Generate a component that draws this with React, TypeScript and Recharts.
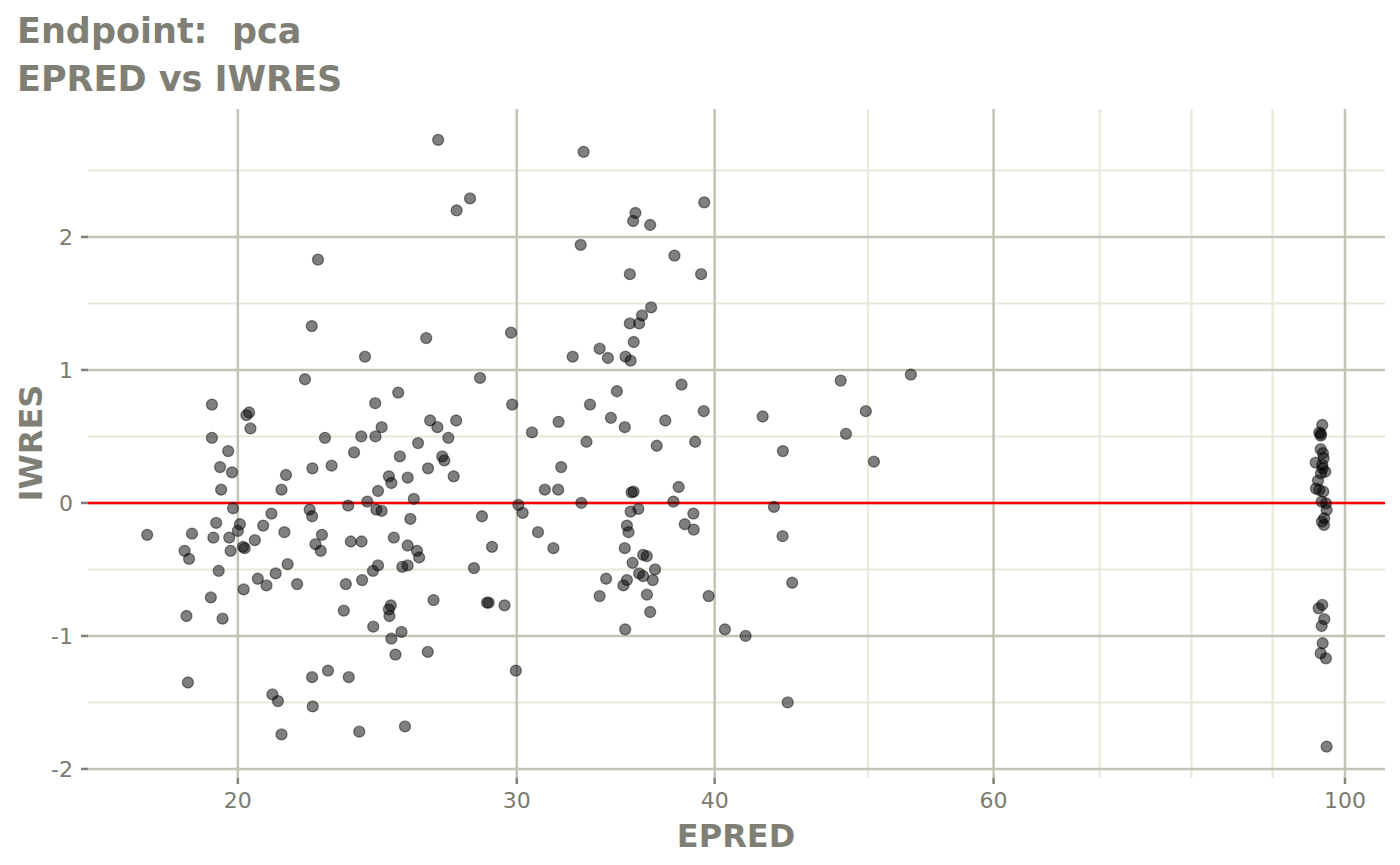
import React from "react";
import {
  ScatterChart,
  Scatter,
  XAxis,
  YAxis,
  CartesianGrid,
  ReferenceLine,
} from "recharts";

// EPRED (x, log scale) and IWRES (y)
const epred = [
  22.47, 22.27, 24.06, 22.05, 19.26, 20.33, 20.25, 20.37, 25.25, 24.42,
  24.65, 24.43, 23.93, 22.7, 19.26, 19.72, 19.49, 19.83, 19.52, 21.45,
  21.31, 22.29, 22.92, 23.68, 25.31, 24.91, 25.0, 25.6, 24.52, 24.14,
  19.86, 21.0, 22.2, 22.28, 23.48, 24.46, 24.65, 25.7, 17.53, 18.71,
  19.38, 20.06, 20.0, 19.3, 19.75, 18.51, 18.63, 19.79, 20.15, 20.2,
  20.5, 20.75, 21.4, 22.6, 22.39, 22.56, 23.57, 23.94, 25.09, 25.6,
  25.4, 25.6, 24.52, 24.34, 19.45, 21.5, 21.13, 20.59, 20.85, 20.17,
  21.8, 23.4, 23.96, 19.23, 18.56, 19.56, 23.33, 24.98, 24.91, 24.93,
  24.35, 25.37, 25.0, 25.15, 18.6, 22.28, 22.8, 23.5, 21.03, 21.2,
  22.3, 21.31, 23.86, 25.5,
  26.76, 33.06, 28.03, 27.49, 35.65, 35.53, 36.42, 39.4, 32.92, 37.73,
  35.36, 39.22, 36.47, 35.99, 35.36, 35.84, 29.75, 26.3, 35.56, 33.84,
  32.54, 34.25, 35.14, 35.4, 28.44, 38.12, 34.7, 29.8, 33.37, 39.37,
  26.45, 27.47, 26.73, 31.88, 34.4, 35.1, 37.23, 30.67, 27.16, 25.99,
  33.2, 36.77, 38.88, 26.92, 27.0, 26.37, 27.37, 32.0, 31.25, 31.86,
  35.45, 35.55, 37.96, 37.67, 25.83, 32.95,
  30.07, 30.26, 28.52, 30.94, 31.64, 28.94, 25.95, 26.03, 28.19, 26.58,
  28.8, 28.73, 29.47, 26.36, 29.96, 35.8, 35.4, 35.21, 35.29, 38.78,
  38.3, 38.8, 35.1, 36.05, 36.24, 35.5, 36.68, 35.84, 36.05, 36.56,
  35.21, 35.03, 34.16, 33.84, 36.25, 36.42, 39.65, 35.12,
  42.89, 48.04, 53.2, 49.83, 48.41, 44.17, 50.42, 43.6, 44.15, 44.77,
  40.6, 41.84, 44.48,
  96.75, 96.33, 96.57, 96.53, 96.53, 96.85, 96.95, 95.83, 96.75, 97.17,
  96.57, 96.15, 95.87, 96.33, 96.89, 96.67, 97.27, 97.37, 97.03, 96.99,
  96.75, 96.25, 97.03, 96.67, 96.81, 96.53, 97.27, 97.37, 96.8, 96.7,
];

const iwres = [
  1.83, 1.33, 1.1, 0.93, 0.74, 0.68, 0.66, 0.56, 0.83, 0.75,
  0.57, 0.5, 0.5, 0.49, 0.49, 0.39, 0.27, 0.23, 0.1, 0.21,
  0.1, 0.26, 0.28, 0.38, 0.35, 0.2, 0.15, 0.19, 0.09, 0.01,
  -0.04, -0.08, -0.05, -0.1, -0.02, -0.05, -0.06, -0.12, -0.24, -0.23,
  -0.15, -0.16, -0.21, -0.26, -0.26, -0.36, -0.42, -0.36, -0.33, -0.34,
  -0.28, -0.17, -0.22, -0.24, -0.31, -0.36, -0.29, -0.29, -0.26, -0.32,
  -0.48, -0.47, -0.47, -0.51, -0.51, -0.46, -0.53, -0.57, -0.62, -0.65,
  -0.61, -0.61, -0.58, -0.71, -0.85, -0.87, -0.81, -0.77, -0.8, -0.85,
  -0.93, -0.97, -1.02, -1.14, -1.35, -1.31, -1.26, -1.31, -1.44, -1.49,
  -1.53, -1.74, -1.72, -1.68,
  2.73, 2.64, 2.29, 2.2, 2.18, 2.12, 2.09, 2.26, 1.94, 1.86,
  1.72, 1.72, 1.47, 1.41, 1.35, 1.35, 1.28, 1.24, 1.21, 1.16,
  1.1, 1.09, 1.1, 1.07, 0.94, 0.89, 0.84, 0.74, 0.74, 0.69,
  0.62, 0.62, 0.57, 0.61, 0.64, 0.57, 0.62, 0.53, 0.49, 0.45,
  0.46, 0.43, 0.46, 0.35, 0.32, 0.26, 0.2, 0.27, 0.1, 0.1,
  0.08, 0.085, 0.12, 0.01, 0.03, 0.0,
  -0.015, -0.075, -0.1, -0.22, -0.34, -0.33, -0.36, -0.41, -0.49, -0.73,
  -0.75, -0.75, -0.77, -1.12, -1.26, -0.045, -0.065, -0.17, -0.22, -0.08,
  -0.16, -0.2, -0.34, -0.39, -0.4, -0.45, -0.5, -0.53, -0.55, -0.58,
  -0.58, -0.62, -0.57, -0.7, -0.69, -0.82, -0.7, -0.95,
  0.65, 0.92, 0.965, 0.69, 0.52, 0.39, 0.31, -0.03, -0.25, -0.6,
  -0.95, -1.0, -1.5,
  0.586, 0.529, 0.519, 0.506, 0.404, 0.374, 0.336, 0.303, 0.286, 0.235,
  0.223, 0.168, 0.108, 0.098, 0.085, 0.01, -0.003, -0.053, -0.115, -0.165,
  -0.767, -0.792, -0.874, -0.925, -1.055, -1.13, -1.168, -1.832, 0.26, -0.14,
];

const xTicks = [20, 30, 40, 60, 100];
const xMinor = [50, 70, 80, 90];
const yTicks = [-2, -1, 0, 1, 2];
const yMinor = [-1.5, -0.5, 0.5, 1.5, 2.5];

const points = epred.map((x, i) => ({ epred: x, iwres: iwres[i] }));

const MAJOR = "#c3c3b6";
const MINOR = "#e7e7da";
const TEXT = "#7a7a70";
const TITLE = "#7f7f76";
const FONT = "'DejaVu Sans', sans-serif";

// map values through the axis scale for grid lines
const mapScale = (axis: any, vals: number[]) => {
  const s = axis && axis.scale;
  if (!s) return [];
  const f = typeof s === "function" ? s : s.map ? (v: number) => s.map(v) : null;
  if (!f) return [];
  return vals.map((v) => f(v));
};

const Dot = (props: any) => {
  const { cx, cy } = props;
  if (cx == null || cy == null) return null;
  return (
    <circle
      cx={cx}
      cy={cy}
      r={5.5}
      fill="rgba(0,0,0,0.5)"
      stroke="rgba(0,0,0,0.45)"
      strokeWidth={1.3}
    />
  );
};

export default function App() {
  return (
    <div style={{ position: "absolute", left: 0, top: 0, width: 1400, height: 865, background: "#fff" }}>
      <ScatterChart
        width={1400}
        height={865}
        margin={{ top: 109, right: 15, bottom: 0, left: 0 }}
      >
        <CartesianGrid
          stroke={MINOR}
          strokeWidth={2}
          horizontalCoordinatesGenerator={({ yAxis }: any) => mapScale(yAxis, yMinor)}
          verticalCoordinatesGenerator={({ xAxis }: any) => mapScale(xAxis, xMinor)}
        />
        <CartesianGrid
          stroke={MAJOR}
          strokeWidth={2.5}
          horizontalCoordinatesGenerator={({ yAxis }: any) => mapScale(yAxis, yTicks)}
          verticalCoordinatesGenerator={({ xAxis }: any) => mapScale(xAxis, xTicks)}
        />
        <XAxis
          dataKey="epred"
          type="number"
          scale="log"
          domain={[16.085, 105.99]}
          allowDataOverflow
          ticks={xTicks}
          height={87}
          axisLine={false}
          tickSize={6}
          tickMargin={8}
          tickLine={{ stroke: "#808078", strokeWidth: 2.5 }}
          tick={{ fill: TEXT, fontSize: 22, fontFamily: FONT }}
        />
        <YAxis
          dataKey="iwres"
          type="number"
          domain={[-2.068, 2.962]}
          allowDataOverflow
          ticks={yTicks}
          width={88}
          axisLine={false}
          tickSize={7}
          tickMargin={8}
          tickLine={{ stroke: "#808078", strokeWidth: 2.5 }}
          tick={{ fill: TEXT, fontSize: 22, fontFamily: FONT }}
        />
        <Scatter data={points} shape={Dot} isAnimationActive={false} />
        <ReferenceLine y={0} stroke="#ff0000" strokeWidth={2.5} />
      </ScatterChart>
      <svg
        width={1400}
        height={865}
        style={{ position: "absolute", left: 0, top: 0, pointerEvents: "none" }}
      >
        <text x={17} y={43} fontSize={35} fontWeight="bold" fill={TITLE} fontFamily={FONT} style={{ whiteSpace: "pre" }}>
          Endpoint:  pca
        </text>
        <text x={17} y={91} fontSize={35} fontWeight="bold" fill={TITLE} fontFamily={FONT}>
          EPRED vs IWRES
        </text>
        <text x={736} y={847} fontSize={32} fontWeight="bold" fill={TITLE} fontFamily={FONT} textAnchor="middle">
          EPRED
        </text>
        <text
          x={42}
          y={443}
          fontSize={32}
          fontWeight="bold"
          fill={TITLE}
          fontFamily={FONT}
          textAnchor="middle"
          transform="rotate(-90 42 443)"
        >
          IWRES
        </text>
      </svg>
    </div>
  );
}
